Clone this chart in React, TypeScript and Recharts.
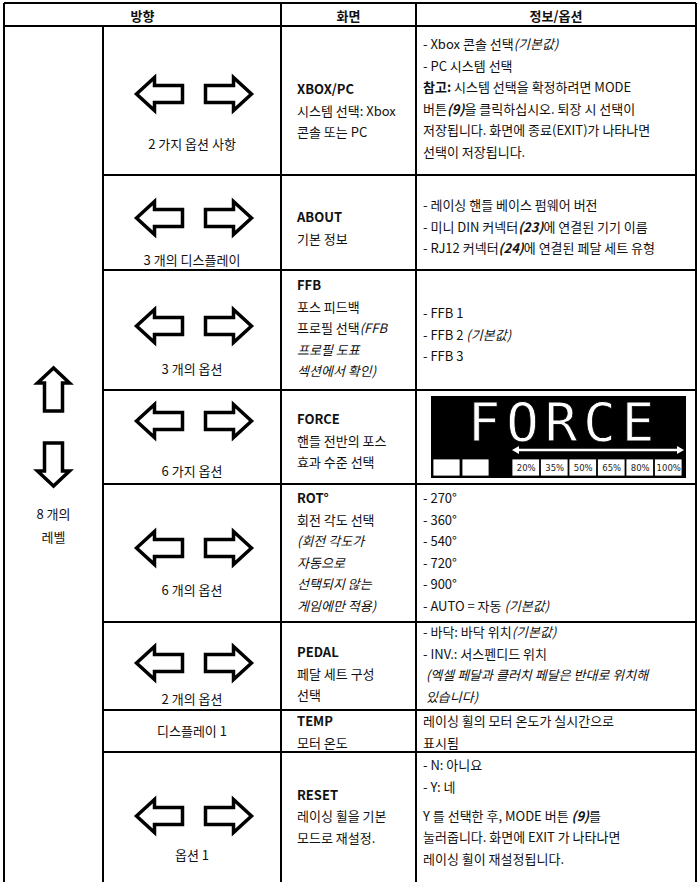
import React from "react";
import { ScatterChart, Scatter, XAxis, YAxis, ReferenceLine } from "recharts";

// ---- content ----
const headerLabels = ["방향", "화면", "정보/옵션"];
const levelLabels = ["8 개의", "레벨"];
const optionLabels = [
  "2 가지 옵션 사항",
  "3 개의 디스플레이",
  "3 개의 옵션",
  "6 가지 옵션",
  "6 개의 옵션",
  "2 개의 옵션",
  "디스플레이 1",
  "옵션 1",
];
const showArrows = [true, true, true, true, true, true, false, true];

// "b:" bold, "i:" italic, "bi:" bold italic
const screenLines: string[][][] = [
  [["b:XBOX/PC"], ["시스템 선택: Xbox"], ["콘솔 또는 PC"]],
  [["b:ABOUT"], ["기본 정보"]],
  [["b:FFB"], ["포스 피드백"], ["프로필 선택", "i:(FFB"], ["i:프로필 도표"], ["i:섹션에서 확인)"]],
  [["b:FORCE"], ["핸들 전반의 포스"], ["효과 수준 선택"]],
  [["b:ROT°"], ["회전 각도 선택"], ["i:(회전 각도가"], ["i:자동으로"], ["i:선택되지 않는"], ["i:게임에만 적용)"]],
  [["b:PEDAL"], ["페달 세트 구성"], ["선택"]],
  [["b:TEMP"], ["모터 온도"]],
  [["b:RESET"], ["레이싱 휠을 기본"], ["모드로 재설정."]],
];

const infoLines: string[][][] = [
  [
    ["- Xbox 콘솔 선택", "i:(기본값)"],
    ["- PC 시스템 선택"],
    ["b:참고:", " 시스템 선택을 확정하려면 MODE"],
    ["버튼", "bi:(9)", "을 클릭하십시오. 퇴장 시 선택이"],
    ["저장됩니다. 화면에 종료(EXIT)가 나타나면"],
    ["선택이 저장됩니다."],
  ],
  [
    ["- 레이싱 핸들 베이스 펌웨어 버전"],
    ["- 미니 DIN 커넥터", "bi:(23)", "에 연결된 기기 이름"],
    ["- RJ12 커넥터", "bi:(24)", "에 연결된 페달 세트 유형"],
  ],
  [["- FFB 1"], ["- FFB 2 ", "i:(기본값)"], ["- FFB 3"]],
  [],
  [["- 270°"], ["- 360°"], ["- 540°"], ["- 720°"], ["- 900°"], ["- AUTO = 자동 ", "i:(기본값)"]],
  [
    ["- 바닥: 바닥 위치", "i:(기본값)"],
    ["- INV.: 서스펜디드 위치"],
    ["i: (엑셀 페달과 클러치 페달은 반대로 위치해"],
    ["i: 있습니다)"],
  ],
  [["레이싱 휠의 모터 온도가 실시간으로"], ["표시됨"]],
  [
    ["- N: 아니요"],
    ["- Y: 네"],
    ["Y 를 선택한 후, MODE 버튼 ", "bi:(9)", "를"],
    ["눌러줍니다. 화면에 EXIT 가 나타나면"],
    ["레이싱 휠이 재설정됩니다."],
  ],
];

const forceTitle = "FORCE";
const forceSteps = ["20%", "35%", "50%", "65%", "80%", "100%"];

// ---- layout ----
const W = 698;
const H = 882;
const LH = 21.6;
const colX = [4, 103, 281, 416, 696];
const headerTop = 3;
const rowEdges = [26, 175, 270, 390, 484, 622, 710, 752];
const screenY = [88, 216, 284, 418, 497, 651, 720, 793.5];
const infoY = [43, 204, 312, 0, 497, 631, 720, 764];
// extra paragraph space before a given line of the info column
const infoGap: Record<number, { line: number; gap: number }> = { 7: { line: 2, gap: 7.5 } };
const arrowY = [94, 218, 326, 421, 548, 663, 0, 816];
const labelY = [143, 259, 368, 470, 589, 698, 730, 854];
const forceBox = { x: 558.5, y: 437 };

const FONT = "'Noto Sans CJK KR', 'Noto Sans', sans-serif";

type Item = { x: number; y: number; segs: string[]; anchor: string };

const textItems: Item[] = [];
headerLabels.forEach((t, i) => {
  const x0 = i === 0 ? colX[0] : colX[i + 1];
  const x1 = colX[i + 2];
  textItems.push({ x: (x0 + x1) / 2, y: 15, segs: ["b:" + t], anchor: "middle" });
});
levelLabels.forEach((t, i) => {
  textItems.push({ x: (colX[0] + colX[1]) / 2, y: 513 + i * 23, segs: [t], anchor: "middle" });
});
optionLabels.forEach((t, r) => {
  textItems.push({ x: (colX[1] + colX[2]) / 2, y: labelY[r], segs: [t], anchor: "middle" });
});
screenLines.forEach((lines, r) =>
  lines.forEach((segs, i) =>
    textItems.push({ x: colX[2] + 16, y: screenY[r] + i * LH, segs, anchor: "start" })
  )
);
infoLines.forEach((lines, r) =>
  lines.forEach((segs, i) => {
    const g = infoGap[r] && i >= infoGap[r].line ? infoGap[r].gap : 0;
    textItems.push({ x: colX[3] + 7, y: infoY[r] + i * LH + g, segs, anchor: "start" });
  })
);

const arrowItems: { x: number; y: number; kind: string }[] = [
  { x: (colX[0] + colX[1]) / 2, y: 389.5, kind: "up" },
  { x: (colX[0] + colX[1]) / 2, y: 464.5, kind: "down" },
];
showArrows.forEach((s, r) => {
  if (s) arrowItems.push({ x: (colX[1] + colX[2]) / 2 + 2, y: arrowY[r], kind: "lr" });
});

type Seg = [number, number, number, number];
const lines: Seg[] = [
  [colX[0], headerTop, colX[4], headerTop],
  [colX[0], rowEdges[0], colX[4], rowEdges[0]],
  ...rowEdges.slice(1).map((y) => [colX[1], y, colX[4], y] as Seg),
  [colX[0], headerTop, colX[0], H],
  [colX[1], rowEdges[0], colX[1], H],
  [colX[2], headerTop, colX[2], H],
  [colX[3], headerTop, colX[3], H],
  [colX[4], headerTop, colX[4], H],
];

function renderSegs(segs: string[]) {
  return segs.map((s, k) => {
    let style = "";
    let t = s;
    const m = s.match(/^(bi|b|i):/);
    if (m) {
      style = m[1];
      t = s.slice(m[0].length);
    }
    return (
      <tspan
        key={k}
        fontWeight={style.includes("b") ? 700 : 400}
        fontStyle={style.includes("i") ? "italic" : "normal"}
      >
        {t}
      </tspan>
    );
  });
}

const TextShape = (props: any) => {
  const { cx, cy, payload } = props;
  return (
    <text
      x={cx}
      y={cy}
      dominantBaseline="central"
      textAnchor={payload.anchor}
      fontFamily={FONT}
      fontSize={13}
      fill="#111"
      style={{ whiteSpace: "pre" }}
    >
      {renderSegs(payload.segs)}
    </text>
  );
};

const ArrowShape = (props: any) => {
  const { cx, cy, payload } = props;
  const common = { fill: "#fff", stroke: "#000", strokeWidth: 3.5, strokeLinejoin: "miter" as const };
  if (payload.kind === "lr") {
    const gap = 23, w = 46, h = 33, sh = 17, head = 18;
    const lx = cx - gap / 2 - w;
    const left = [
      [lx, cy], [lx + head, cy - h / 2], [lx + head, cy - sh / 2], [cx - gap / 2, cy - sh / 2],
      [cx - gap / 2, cy + sh / 2], [lx + head, cy + sh / 2], [lx + head, cy + h / 2],
    ];
    const rx = cx + gap / 2 + w;
    const right = [
      [rx, cy], [rx - head, cy - h / 2], [rx - head, cy - sh / 2], [cx + gap / 2, cy - sh / 2],
      [cx + gap / 2, cy + sh / 2], [rx - head, cy + sh / 2], [rx - head, cy + h / 2],
    ];
    return (
      <g>
        <polygon points={left.map((p) => p.join(",")).join(" ")} {...common} />
        <polygon points={right.map((p) => p.join(",")).join(" ")} {...common} />
      </g>
    );
  }
  const hw = 32, sw = 18, h = 43, head = 15;
  const dir = payload.kind === "up" ? -1 : 1;
  const tip = cy + (dir * h) / 2;
  const base = cy - (dir * h) / 2;
  const hb = tip - dir * head;
  const pts = [
    [cx, tip], [cx - hw / 2, hb], [cx - sw / 2, hb], [cx - sw / 2, base],
    [cx + sw / 2, base], [cx + sw / 2, hb], [cx + hw / 2, hb],
  ];
  return <polygon points={pts.map((p) => p.join(",")).join(" ")} {...common} />;
};

const ForceShape = (props: any) => {
  const { cx, cy } = props;
  const bw = 255, bh = 82;
  const x0 = cx - bw / 2;
  const y0 = cy - bh / 2;
  const stepX = x0 + 81;
  const stepW = (bw - 3 - 81) / forceSteps.length;
  const ay = y0 + 54;
  return (
    <g>
      <rect x={x0} y={y0} width={bw} height={bh} fill="#000" />
      <text
        x={x0 + 133}
        y={y0 + 26}
        textAnchor="middle"
        dominantBaseline="central"
        fontFamily="'DejaVu Sans Mono', monospace"
        fontSize={54}
        letterSpacing={6}
        fill="#fff"
        stroke="#000"
        strokeWidth={0.8}
      >
        {forceTitle}
      </text>
      <line x1={stepX + 4} y1={ay} x2={x0 + bw - 5} y2={ay} stroke="#fff" strokeWidth={2.5} />
      <polygon points={`${stepX},${ay} ${stepX + 7},${ay - 4} ${stepX + 7},${ay + 4}`} fill="#fff" />
      <polygon
        points={`${x0 + bw - 2},${ay} ${x0 + bw - 9},${ay - 4} ${x0 + bw - 9},${ay + 4}`}
        fill="#fff"
      />
      <rect x={x0 + 2} y={y0 + 63} width={27} height={17} fill="#fff" stroke="#000" strokeWidth={0.8} />
      <rect x={x0 + 31} y={y0 + 63} width={27} height={17} fill="#fff" stroke="#000" strokeWidth={0.8} />
      {forceSteps.map((s, i) => (
        <g key={s}>
          <rect
            x={stepX + i * stepW}
            y={y0 + 63}
            width={stepW - 1}
            height={17}
            fill="#fff"
            stroke="#000"
            strokeWidth={0.8}
          />
          <text
            x={stepX + i * stepW + stepW / 2}
            y={y0 + 72}
            textAnchor="middle"
            dominantBaseline="central"
            fontFamily="'DejaVu Sans', sans-serif"
            fontSize={8.5}
            fill="#222"
          >
            {s}
          </text>
        </g>
      ))}
    </g>
  );
};

export default function App() {
  return (
    <div style={{ width: W, height: H, background: "#fff" }}>
      <style>{"body{margin:0;background:#fff}"}</style>
      <ScatterChart width={W} height={H} margin={{ top: 0, right: 0, bottom: 0, left: 0 }}>
        <XAxis type="number" dataKey="x" domain={[0, W]} allowDataOverflow hide />
        <YAxis type="number" dataKey="y" domain={[0, H]} allowDataOverflow reversed hide />
        {lines.map((l, i) => (
          <ReferenceLine
            key={i}
            segment={[
              { x: l[0], y: l[1] },
              { x: l[2], y: l[3] },
            ]}
            stroke="#000"
            strokeWidth={2}
            ifOverflow="visible"
          />
        ))}
        <Scatter data={arrowItems} shape={ArrowShape} isAnimationActive={false} />
        <Scatter data={[forceBox]} shape={ForceShape} isAnimationActive={false} />
        <Scatter data={textItems} shape={TextShape} isAnimationActive={false} />
      </ScatterChart>
    </div>
  );
}
